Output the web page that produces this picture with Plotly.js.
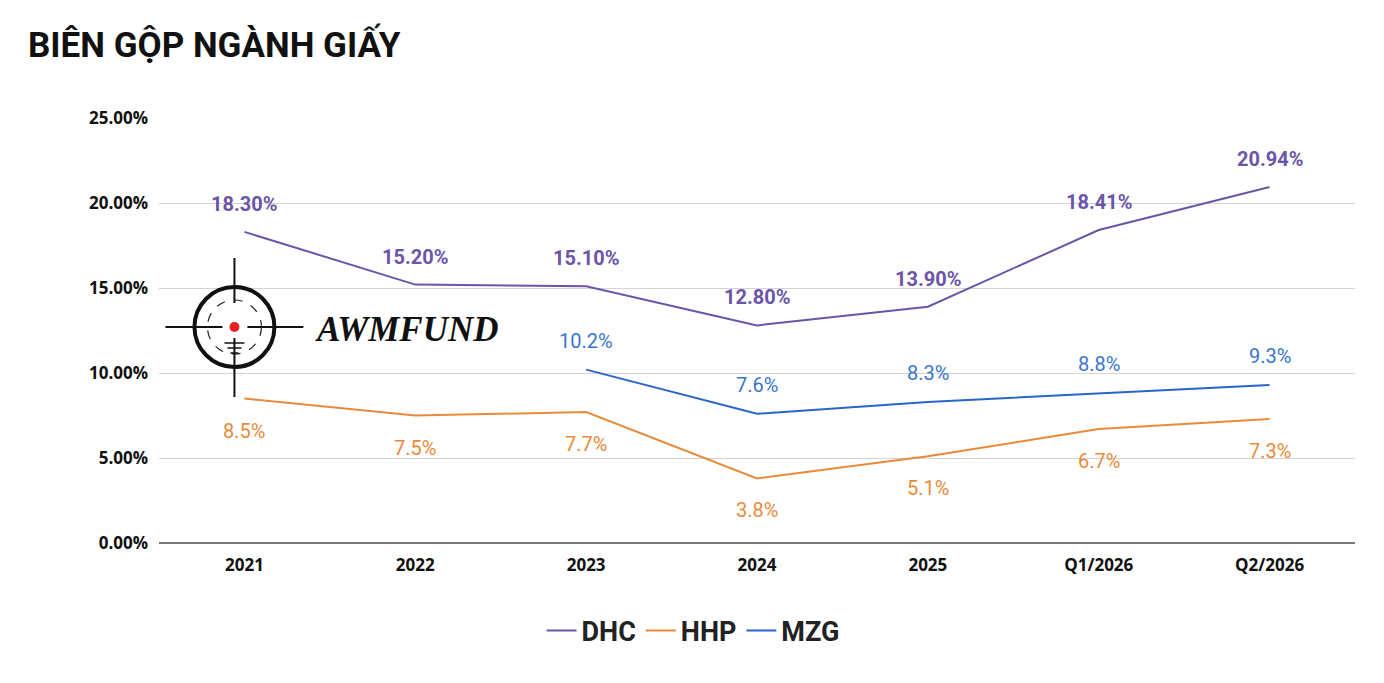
<!DOCTYPE html>
<html>
<head>
<meta charset="utf-8">
<script src="https://cdn.plot.ly/plotly-3.0.1.min.js"></script>
<style>
  html, body { margin: 0; padding: 0; background: #fff; }
  #chart { width: 1384px; height: 683px; }
</style>
</head>
<body>
<div id="chart"></div>
<script>
// categories and values (gross margin, %)
const periods = ['2021', '2022', '2023', '2024', '2025', 'Q1/2026', 'Q2/2026']
const dhc = [18.30, 15.20, 15.10, 12.80, 13.90, 18.41, 20.94]
const hhp = [8.5, 7.5, 7.7, 3.8, 5.1, 6.7, 7.3]
const mzg = [null, null, 10.2, 7.6, 8.3, 8.8, 9.3]
const dhcLabels = ['18.30%', '15.20%', '15.10%', '12.80%', '13.90%', '18.41%', '20.94%']
const hhpLabels = ['8.5%', '7.5%', '7.7%', '3.8%', '5.1%', '6.7%', '7.3%']
const mzgLabels = ['', '', '10.2%', '7.6%', '8.3%', '8.8%', '9.3%']
const yTicks = [0, 5, 10, 15, 20, 25]
const yTickText = ['0.00%', '5.00%', '10.00%', '15.00%', '20.00%', '25.00%']

const purple = '#6b55a8'
const orange = '#e98a3b'
const blue = '#2a66c9'
const blueText = '#3a76cc'

const traces = [
  { name: 'DHC', x: periods, y: dhc, mode: 'lines', line: { color: purple, width: 2 } },
  { name: 'HHP', x: periods, y: hhp, mode: 'lines', line: { color: orange, width: 2 } },
  { name: 'MZG', x: periods, y: mzg, mode: 'lines', line: { color: blue, width: 2 } }
]

// data labels (x as category index so the axis doesn't read "2021" as a number)
let annotations = []
function addLabels(vals, labels, color, shift, weight) {
  for (let i = 0; i < periods.length; i++) {
    if (vals[i] == null) continue
    annotations.push({
      x: i, y: vals[i], xref: 'x', yref: 'y',
      text: labels[i], showarrow: false, yshift: shift,
      font: { family: 'Roboto', size: 20, color: color, weight: weight }
    })
  }
}
addLabels(dhc, dhcLabels, purple, 28, 'bold')
addLabels(hhp, hhpLabels, orange, -32, 'normal')
addLabels(mzg, mzgLabels, blueText, 29, 'normal')

// watermark logo, placed in paper coords
const L = 158.5, T = 118, W = 1197, H = 425
function px(v) { return (v - L) / W }
function py(v) { return (543 - v) / H }

annotations.push({
  xref: 'paper', yref: 'paper', x: px(313), y: py(329), xanchor: 'left', yanchor: 'middle',
  text: '<b><i>AWMFUND</i></b>', showarrow: false,
  font: { family: 'Liberation Serif', size: 35, color: '#111' }
})

const cx = 234, cy = 327
const shapes = [
  { type: 'circle', xref: 'paper', yref: 'paper', x0: px(cx - 40), x1: px(cx + 40), y0: py(cy + 40), y1: py(cy - 40), line: { color: '#111', width: 4 } },
  { type: 'circle', xref: 'paper', yref: 'paper', x0: px(cx - 27), x1: px(cx + 27), y0: py(cy + 27), y1: py(cy - 27), line: { color: '#222', width: 1.2, dash: 'dash' } },
  { type: 'line', xref: 'paper', yref: 'paper', x0: px(165), x1: px(222), y0: py(cy), y1: py(cy), line: { color: '#111', width: 2 } },
  { type: 'line', xref: 'paper', yref: 'paper', x0: px(247), x1: px(303), y0: py(cy), y1: py(cy), line: { color: '#111', width: 2 } },
  { type: 'line', xref: 'paper', yref: 'paper', x0: px(cx), x1: px(cx), y0: py(258), y1: py(303), line: { color: '#111', width: 2 } },
  { type: 'line', xref: 'paper', yref: 'paper', x0: px(cx), x1: px(cx), y0: py(338), y1: py(397), line: { color: '#111', width: 2 } },
  { type: 'line', xref: 'paper', yref: 'paper', x0: px(cx - 10), x1: px(cx + 10), y0: py(343), y1: py(343), line: { color: '#111', width: 1.5 } },
  { type: 'line', xref: 'paper', yref: 'paper', x0: px(cx - 7), x1: px(cx + 7), y0: py(348), y1: py(348), line: { color: '#111', width: 1.5 } },
  { type: 'line', xref: 'paper', yref: 'paper', x0: px(cx - 4), x1: px(cx + 4), y0: py(353), y1: py(353), line: { color: '#111', width: 1.5 } },
  { type: 'circle', xref: 'paper', yref: 'paper', x0: px(cx - 5), x1: px(cx + 5), y0: py(cy + 5), y1: py(cy - 5), fillcolor: '#e3211f', line: { width: 0 } }
]

const layout = {
  width: 1384, height: 683,
  paper_bgcolor: '#fff', plot_bgcolor: '#fff',
  margin: { l: L, r: 28.5, t: T, b: 140 },
  title: {
    text: '<b>BIÊN GỘP NGÀNH GIẤY</b>',
    x: 28 / 1384, xanchor: 'left', xref: 'container',
    y: 1 - 45 / 683, yanchor: 'middle', yref: 'container',
    font: { family: 'Roboto', size: 35, color: '#111' }
  },
  xaxis: {
    type: 'category', range: [-0.5, 6.5], showgrid: false, zeroline: false, showline: false,
    ticks: '', ticklabelstandoff: 10,
    tickfont: { family: 'Open Sans', size: 17, color: '#111', weight: 'bold' }
  },
  yaxis: {
    range: [0, 25], tickmode: 'array', tickvals: yTicks, ticktext: yTickText,
    showgrid: true, gridcolor: '#d4d4d4', gridwidth: 1,
    zeroline: true, zerolinecolor: '#777', zerolinewidth: 2,
    showline: false, ticks: '', ticklabelstandoff: 10,
    tickfont: { family: 'Open Sans', size: 17, color: '#111', weight: 'bold' }
  },
  legend: {
    orientation: 'h', x: px(693), xanchor: 'center', y: py(631), yanchor: 'middle',
    font: { family: 'Roboto', size: 27, color: '#222', weight: 'bold' }
  },
  annotations: annotations,
  shapes: shapes
}

Plotly.newPlot('chart', traces, layout, { displayModeBar: false, staticPlot: true })
</script>
</body>
</html>
